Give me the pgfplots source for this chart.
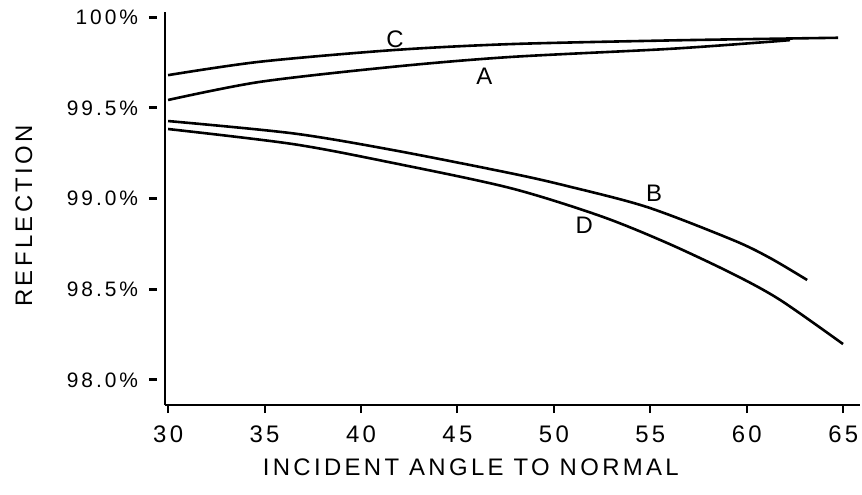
\documentclass[border=0pt]{standalone}
\usepackage{fontspec}
\setmainfont{Liberation Sans}[LetterSpace=14]
\usepackage{pgfplots}
\pgfplotsset{compat=1.18}

\begin{document}
\begin{tikzpicture}
\begin{axis}[
  at={(0,0)}, anchor=south west,
  scale only axis, width=347.5bp, height=196.5bp,
  xmin=29.84, xmax=65.87, ymin=97.862, ymax=100.028,
  axis x line*=bottom, axis y line*=left,
  axis line style={line width=1.3bp, -},
  xtick={30,35,...,65},
  ytick={98,98.5,99,99.5,100},
  yticklabels={98.0\%,98.5\%,99.0\%,99.5\%,100\%},
  /pgf/number format/assume math mode=true,
  tick align=outside,
  major tick length=4bp,
  x tick style={line width=1bp, black},
  y tick style={line width=1.5bp, black, xshift=-4bp},
  xticklabel style={font=\fontsize{12}{14}\selectfont, yshift=-3bp},
  yticklabel style={font=\fontsize{10.5}{12}\selectfont, xshift=-6bp},
  xlabel={INCIDENT ANGLE TO NORMAL},
  xlabel style={font=\fontsize{12}{14}\selectfont, at={(axis description cs:0.44,-0.158)}, anchor=center},
  ylabel={REFLECTION},
  ylabel style={font=\fontsize{12}{14}\selectfont, at={(axis description cs:-0.203,0.481)}, anchor=center},
  cycle list={{black}},
  every axis plot/.append style={line width=1.3bp, smooth, no markers},
  clip=false,
]
% C
\addplot coordinates {(30,99.680) (34.77,99.754) (41.66,99.818) (47.73,99.851) (55.87,99.871) (62.24,99.882) (64.73,99.886)};
% A
\addplot coordinates {(30,99.543) (34.77,99.643) (41.66,99.726) (47.73,99.780) (55.87,99.824) (60.69,99.860) (62.24,99.873)};
% B
\addplot coordinates {(30,99.427) (36.48,99.359) (41.66,99.267) (47.73,99.140) (50.68,99.069) (54.83,98.953) (59.29,98.771) (61.21,98.672) (63.13,98.551)};
% D
\addplot coordinates {(30,99.383) (36.48,99.300) (41.66,99.196) (47.73,99.058) (52.40,98.904) (55.87,98.755) (59.29,98.584) (61.73,98.441) (64.99,98.198)};
\node[font=\fontsize{12}{14}\selectfont] at (axis cs:41.76,99.879) {C};
\node[font=\fontsize{12}{14}\selectfont] at (axis cs:46.4,99.675) {A};
\node[font=\fontsize{12}{14}\selectfont] at (axis cs:55.2,99.031) {B};
\node[font=\fontsize{12}{14}\selectfont] at (axis cs:51.57,98.853) {D};
\end{axis}
\pgfresetboundingbox
\path (-82.5bp,-45bp) rectangle (348.5bp,202.5bp);
\end{tikzpicture}
\end{document}
